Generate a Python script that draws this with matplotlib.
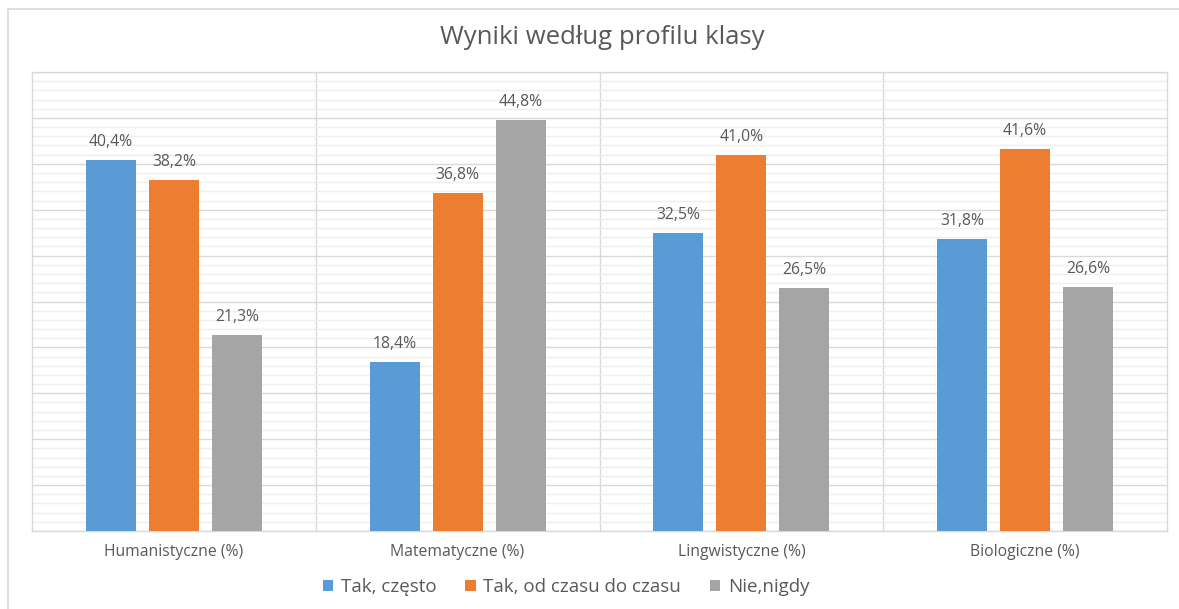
"""Grouped bar chart: survey answers broken down by class profile."""
import matplotlib
matplotlib.use("Agg")
import matplotlib.pyplot as plt
import numpy as np
from matplotlib.patches import Patch, Rectangle
from matplotlib.ticker import MultipleLocator

plt.rcParams["font.family"] = ["Open Sans", "DejaVu Sans"]

categories = ["Humanistyczne (%)", "Matematyczne (%)", "Lingwistyczne (%)", "Biologiczne (%)"]
series_names = ["Tak, często", "Tak, od czasu do czasu", "Nie,nigdy"]
often = [40.4, 18.4, 32.5, 31.8]
sometimes = [38.2, 36.8, 41.0, 41.6]
never = [21.3, 44.8, 26.5, 26.6]

_COLORS = ["#5B9BD5", "#ED7D31", "#A5A5A5"]
_TEXT = "#595959"
_GRID_MAJOR = "#D9D9D9"
_GRID_MINOR = "#EFEFEF"

fig = plt.figure(figsize=(11.79, 6.09), dpi=100)
ax = fig.add_axes([32 / 1179, 1 - 531 / 609, 1135 / 1179, 459 / 609])

# light chart-area frame around the whole figure
fig.patches.append(Rectangle((8 / 1179, -0.1), 1.2, 1 - 9 / 609 + 0.1,
                             transform=fig.transFigure, fill=False,
                             edgecolor="#D9D9D9", linewidth=1.2))

x = np.arange(len(categories))
width = 0.176
step = 0.222
for i, (vals, name) in enumerate(zip([often, sometimes, never], series_names)):
    bars = ax.bar(x + (i - 1) * step, vals, width, color=_COLORS[i], label=name, zorder=3)
    for b, v in zip(bars, vals):
        ax.text(b.get_x() + b.get_width() / 2, v + 1.1, f"{v:.1f}%".replace(".", ","),
                ha="center", va="bottom", fontsize=11.3, color=_TEXT)

ax.set_xlim(-0.5, len(categories) - 0.5)
ax.set_ylim(0, 50)
ax.yaxis.set_major_locator(MultipleLocator(5))
ax.yaxis.set_minor_locator(MultipleLocator(1))
ax.grid(axis="y", which="major", color=_GRID_MAJOR, linewidth=1.0, zorder=0)
ax.grid(axis="y", which="minor", color=_GRID_MINOR, linewidth=1.0, zorder=0)
for sep in x[:-1] + 0.5:
    ax.axvline(sep, color=_GRID_MAJOR, linewidth=1.0, zorder=1)

ax.set_xticks(x)
ax.set_xticklabels(categories, fontsize=11.3, color=_TEXT)
ax.tick_params(axis="x", length=0, pad=9)
ax.tick_params(axis="y", which="both", left=False, labelleft=False)
for side in ax.spines.values():
    side.set_color(_GRID_MAJOR)
    side.set_linewidth(1.0)

fig.suptitle("Wyniki według profilu klasy", x=602 / 1179, y=1 - 38 / 609, va="center",
             fontsize=18.5, color=_TEXT)

handles = [Patch(facecolor=c, label=n) for c, n in zip(_COLORS, series_names)]
fig.legend(handles=handles, loc="center", bbox_to_anchor=(566 / 1179, 1 - 587 / 609),
           ncol=3, frameon=False, fontsize=13.5, handlelength=0.55, handleheight=0.55,
           handletextpad=0.4, columnspacing=1.55, labelcolor=_TEXT)

fig.savefig("out.png", dpi=100, facecolor="white")
